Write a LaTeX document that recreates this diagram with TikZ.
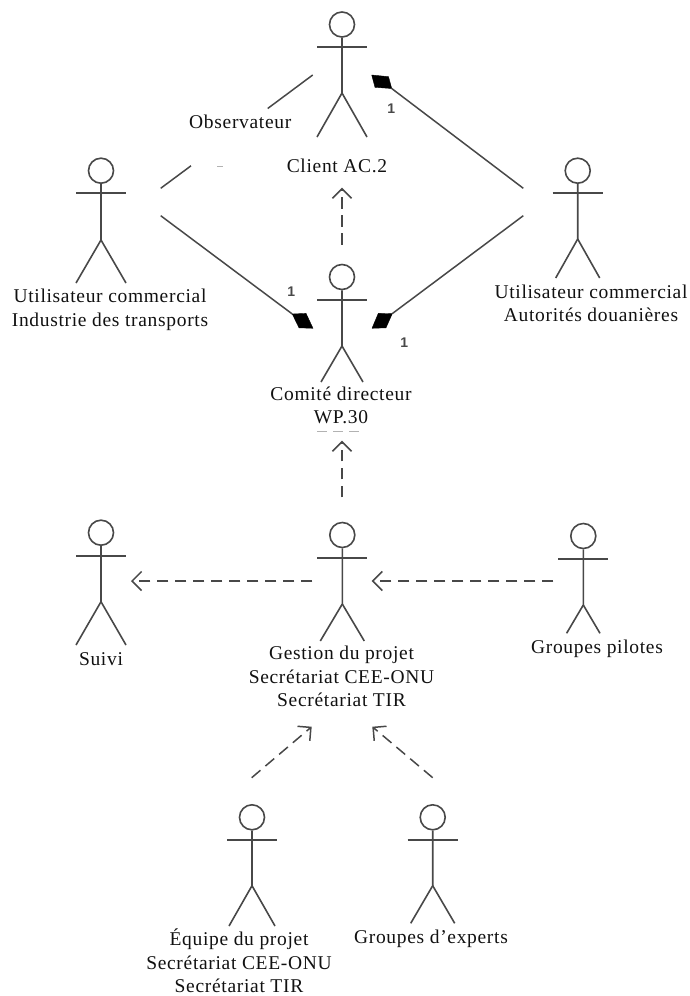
\documentclass[tikz,border=0pt]{standalone}
\usepackage{fontspec}
\setmainfont[LetterSpace=3.5]{Liberation Serif}
\newfontfamily\numfont{Liberation Sans}
\usetikzlibrary{arrows.meta}
\definecolor{stroke}{HTML}{484848}
\definecolor{ink}{HTML}{111111}
\tikzset{
  figure/.style={draw=stroke,line width=1.6pt},
  assoc/.style={draw=stroke,line width=1.5pt},
  depend/.style={draw=stroke,line width=1.5pt,dash pattern=on 11.5pt off 6.5pt,
    -{Straight Barb[length=9.5pt,width=19pt,line width=1.5pt]}},
  whole/.style={fill=black,draw=black,line width=0.4pt,line join=round},
  lbl/.style={anchor=base,align=center,inner sep=0pt,text=ink,
    font=\fontsize{19.5}{23.5}\selectfont},
  mult/.style={inner sep=0pt,text=stroke,font=\numfont\bfseries\fontsize{14}{16}\selectfont},
  remnant/.style={draw=gray!60,line width=0.9pt}
}
% name, cx, head cy, arm y, hip y, feet y, half foot
\newcommand{\actorfig}[7]{%
  \node[figure,circle,minimum size=25pt,inner sep=0pt] (#1) at (#2,#3) {};
  \draw[figure] (#1.south) -- (#2,#5) -- (#2-#7,#6);
  \draw[figure] (#2,#5) -- (#2+#7,#6);
  \draw[figure] (#2-25,#4) -- (#2+25,#4);
}
\begin{document}
\begin{tikzpicture}[x=1pt,y=-1pt]
\useasboundingbox (0,0) rectangle (690,996);
\actorfig{client}{342}{24.5}{47}{93}{137}{25}
\actorfig{utilT}{101}{170.7}{193}{240}{283}{25}
\actorfig{utilD}{577.7}{170.7}{193}{239}{278}{22}
\actorfig{comite}{342}{277}{300}{346}{382}{21}
\actorfig{suivi}{101}{532.7}{555.7}{601.7}{645}{25}
\actorfig{gestion}{342.3}{535}{557.7}{604}{641}{22}
\actorfig{pilotes}{583.3}{536}{558.7}{605}{633.3}{16.7}
\actorfig{equipe}{252}{817.3}{839.7}{885.7}{926}{23}
\actorfig{experts}{432.7}{817.3}{839.7}{885.7}{923.3}{22}

\node[lbl] (tClient) at (337,172) {Client AC.2};
\node[lbl] (tObs) at (240.3,128) {Observateur};
\node[lbl] (tUtilT) at (110,326) {Utilisateur commercial\\Industrie des transports};
\node[lbl] (tUtilD) at (591,321.7) {Utilisateur commercial\\Autorités douanières};
\node[lbl] (tComite) at (341,423.5) {Comité directeur\\WP.30};
\node[lbl] (tSuivi) at (101,665) {Suivi};
\node[lbl] (tGestion) at (341.5,706.5) {Gestion du projet\\Secrétariat CEE-ONU\\Secrétariat TIR};
\node[lbl] (tPilotes) at (597,653) {Groupes pilotes};
\node[lbl] (tEquipe) at (239,992.5) {Équipe du projet\\Secrétariat CEE-ONU\\Secrétariat TIR};
\node[lbl] (tExperts) at (431,943) {Groupes d’experts};

\node[mult] (m1) at (391.3,109) {1};
\node[mult] (m2) at (291.3,291.7) {1};
\node[mult] (m3) at (404.3,342.3) {1};

% connector ends
\coordinate (utilT-up) at (160.7,188.3);
\coordinate (utilT-dn) at (160.7,215.7);
\coordinate (utilD-up) at (523.3,188.3);
\coordinate (utilD-dn) at (523.3,215.7);
\coordinate (gapA) at (191,165.8);
\coordinate (gapB) at (267.7,108.5);
\coordinate (client-w) at (312.7,75);
\coordinate (client-e) at (391.7,88.5);
\coordinate (comite-w) at (292.3,314);
\coordinate (comite-e) at (392.3,313.6);
\coordinate (client-s) at (342,187.7);
\coordinate (comite-n) at (342,244.7);
\coordinate (comite-s) at (342,440.7);
\coordinate (gestion-n) at (342,497.3);
\coordinate (gestion-w) at (312.3,581);
\coordinate (suivi-e) at (131,581);
\coordinate (pilotes-w) at (553.3,581);
\coordinate (gestion-e) at (371.7,581);
\coordinate (equipe-n) at (251.7,777.7);
\coordinate (gestion-sw) at (311.7,726.7);
\coordinate (experts-n) at (432.7,777.7);
\coordinate (gestion-se) at (372.3,726.7);

\draw[assoc] (utilT-up) -- (gapA);
\draw[assoc] (gapB) -- (client-w);
\draw[assoc] (utilD-up) -- (client-e);
\draw[assoc] (utilT-dn) -- (comite-w);
\draw[assoc] (utilD-dn) -- (comite-e);

\fill[whole] (371.7,75) -- (388.5,76.7) -- (client-e) -- (375,87.3) -- cycle;
\fill[whole] (comite-w) -- (306,313.4) -- (313,328.3) -- (299,327.8) -- cycle;
\fill[whole] (comite-e) -- (378.3,313.4) -- (372,328.3) -- (386,327.8) -- cycle;

\draw[depend] (comite-n) -- (client-s);
\draw[depend] (gestion-n) -- (comite-s);
\draw[depend] (gestion-w) -- (suivi-e);
\draw[depend] (pilotes-w) -- (gestion-e);
\draw[depend] (equipe-n) -- (gestion-sw);
\draw[depend] (experts-n) -- (gestion-se);

% faint remnants
\draw[remnant] (217,166.3) -- (223,166.3);
\draw[remnant,dash pattern=on 10pt off 6pt] (317,431.7) -- (365,431.7);
\end{tikzpicture}
\end{document}
